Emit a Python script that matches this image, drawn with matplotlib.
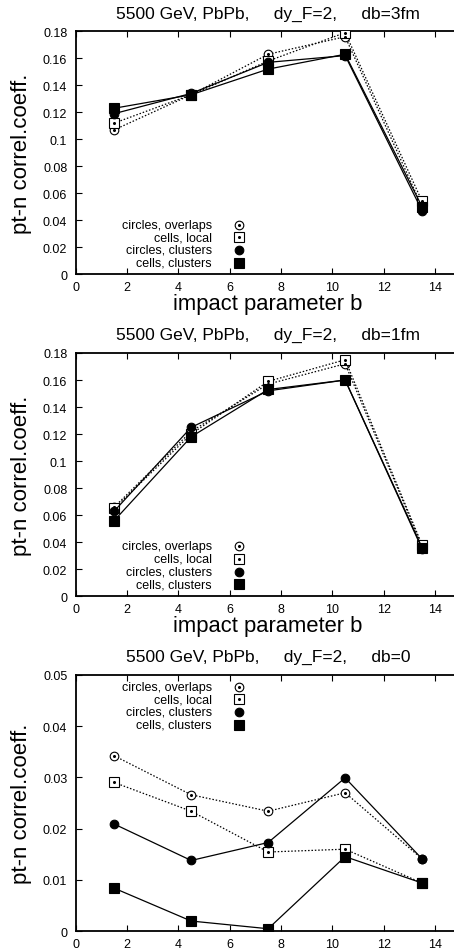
import matplotlib
matplotlib.use("Agg")
import matplotlib.pyplot as plt

plt.rcParams["font.family"] = ["Liberation Sans", "DejaVu Sans"]

# impact parameter bins
b = [1.5, 4.5, 7.5, 10.5, 13.5]

labels = ["circles, overlaps", "cells, local", "circles, clusters", "cells, clusters"]

# db = 3fm
db3_circ_overlap = [0.107, 0.133, 0.163, 0.176, 0.050]
db3_cell_local = [0.112, 0.133, 0.158, 0.179, 0.054]
db3_circ_clust = [0.119, 0.134, 0.157, 0.162, 0.047]
db3_cell_clust = [0.123, 0.133, 0.152, 0.163, 0.050]

# db = 1fm
db1_circ_overlap = [0.066, 0.122, 0.157, 0.172, 0.037]
db1_cell_local = [0.065, 0.120, 0.159, 0.175, 0.038]
db1_circ_clust = [0.063, 0.125, 0.152, 0.160, 0.035]
db1_cell_clust = [0.056, 0.118, 0.153, 0.160, 0.036]

# db = 0
db0_circ_overlap = [0.0342, 0.0266, 0.0234, 0.0270, 0.0141]
db0_cell_local = [0.0290, 0.0234, 0.01545, 0.0160, 0.0094]
db0_circ_clust = [0.0209, 0.0138, 0.0173, 0.0299, 0.0141]
db0_cell_clust = [0.0084, 0.0020, 0.0005, 0.01455, 0.0094]

titles = ["5500 GeV, PbPb,     dy_F=2,     db=3fm",
          "5500 GeV, PbPb,     dy_F=2,     db=1fm",
          "5500 GeV, PbPb,     dy_F=2,     db=0"]

panels = [
    (db3_circ_overlap, db3_cell_local, db3_circ_clust, db3_cell_clust),
    (db1_circ_overlap, db1_cell_local, db1_circ_clust, db1_cell_clust),
    (db0_circ_overlap, db0_cell_local, db0_circ_clust, db0_cell_clust),
]

# marker, filled?, linestyle
styles = [("o", False, (0, (1.2, 1.5))),
          ("s", False, (0, (1.2, 1.5))),
          ("o", True, "-"),
          ("s", True, "-")]

fig = plt.figure(figsize=(4.54, 9.53), dpi=100)

W = 454.0
H = 953.0
left = 75.7 / W
width = 15 * 25.66 / W
# (top px, bottom px) of each frame
frames = [(32.3, 275.3), (354.0, 597.3), (675.7, 932.3)]
ylims = [(0, 0.18), (0, 0.18), (0, 0.05)]
yticks = [[0, 0.02, 0.04, 0.06, 0.08, 0.1, 0.12, 0.14, 0.16, 0.18],
          [0, 0.02, 0.04, 0.06, 0.08, 0.1, 0.12, 0.14, 0.16, 0.18],
          [0, 0.01, 0.02, 0.03, 0.04, 0.05]]
legend_top = [225.7, 547.3, 687.7]

for i, (top, bot) in enumerate(frames):
    ax = fig.add_axes([left, (H - bot) / H, width, (bot - top) / H])
    series = panels[i]
    for (mk, filled, ls), y in zip(styles, series):
        ax.plot(b, y, color="black", linestyle=ls, linewidth=0.9,
                marker=mk, markersize=6.5 if mk == "s" else 6.2,
                markerfacecolor="black" if filled else "white",
                markeredgecolor="black", markeredgewidth=0.8, zorder=3)
        if not filled:
            ax.plot(b, y, linestyle="none", marker="o", markersize=1.2,
                    color="black", zorder=4)

    ax.set_xlim(0, 15)
    ax.set_ylim(*ylims[i])
    ax.set_xticks([0, 2, 4, 6, 8, 10, 12, 14])
    ax.set_yticks(yticks[i])
    ax.set_yticklabels([("%g" % t) for t in yticks[i]])
    ax.tick_params(direction="in", length=4, width=0.8, labelsize=9,
                   top=True, right=False, colors="black")
    ax.tick_params(axis="x", pad=5)
    ax.tick_params(axis="y", pad=6)
    for s in ["left", "bottom", "top"]:
        ax.spines[s].set_linewidth(1.3)
    ax.spines["right"].set_visible(False)

    ax.set_title(titles[i], fontsize=12.5, pad=10)
    ax.set_ylabel("pt-n correl.coeff.", fontsize=16)
    ax.yaxis.set_label_coords(-0.113, 0.5)
    if i < 2:
        ax.set_xlabel("impact parameter b", fontsize=15.8)
        ax.xaxis.set_label_coords(0.5, -0.075)

    # legend drawn by hand, gnuplot-style (text right-aligned, key marker to the right)
    h = bot - top
    for k, lab in enumerate(labels):
        ypx = legend_top[i] + k * 12.6
        yy = (bot - ypx) / h
        ax.text((211.7 - 75.7) / (15 * 25.66), yy, lab, transform=ax.transAxes,
                ha="right", va="center", fontsize=9)
        mk, filled, ls = styles[k]
        xx = (239.0 - 75.7) / (15 * 25.66)
        ax.plot([xx], [yy], transform=ax.transAxes, marker=mk,
                markersize=6.5 if mk == "s" else 6.2,
                markerfacecolor="black" if filled else "white",
                markeredgecolor="black", markeredgewidth=0.8,
                linestyle="none", clip_on=False)
        if not filled:
            ax.plot([xx], [yy], transform=ax.transAxes, marker="o",
                    markersize=1.2, color="black", linestyle="none",
                    clip_on=False)

fig.savefig("out.png", dpi=100)
